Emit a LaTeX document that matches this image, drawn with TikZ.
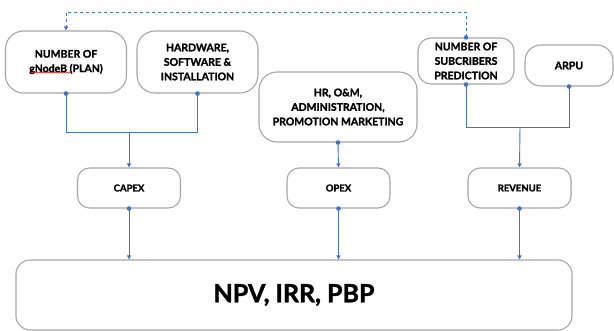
\documentclass[tikz,border=0pt]{standalone}
\usepackage{fontspec}
\setmainfont{Lato}[BoldFeatures={FakeBold=1.6}]
\usetikzlibrary{arrows.meta,decorations.pathmorphing}
\definecolor{boxgray}{HTML}{A6A6A6}
\definecolor{linkblue}{HTML}{4472C4}
\begin{document}
\begin{tikzpicture}[x=1pt,y=-1pt,
  inbox/.style={draw=boxgray,line width=1.1pt,rounded corners=18pt,fill=white,
    align=center,font=\fontsize{10.5}{14.5}\selectfont\bfseries,inner sep=2pt},
  midbox/.style={draw=boxgray,line width=1.1pt,rounded corners=12pt,fill=white,
    minimum width=103pt,minimum height=40pt,font=\fontsize{9.5}{12}\selectfont\bfseries},
  link/.style={draw=linkblue,line width=0.9pt},
  tip/.style={-{Triangle[length=4pt,width=4pt]}},
  linkdot/.style={fill=linkblue},
]
\useasboundingbox (0,0) rectangle (614,331);

\node[inbox,minimum width=121pt,minimum height=62pt] (gnb) at (66,62)
  {NUMBER OF\\gNodeB (PLAN)};
\node[inbox,minimum width=121pt,minimum height=62pt] (hw) at (197.5,62)
  {HARDWARE,\\SOFTWARE \&\\INSTALLATION};
\node[inbox,minimum width=158pt,minimum height=70pt] (hr) at (338,107)
  {HR, O\&M,\\ADMINISTRATION,\\PROMOTION MARKETING};
\node[inbox,minimum width=96pt,minimum height=46pt,rounded corners=13pt] (sub) at (466,61)
  {NUMBER OF\\SUBCRIBERS\\PREDICTION};
\node[inbox,minimum width=88pt,minimum height=41pt,rounded corners=16pt] (arpu) at (569,65.5)
  {ARPU};

\node[midbox] (capex) at (129,188) {CAPEX};
\node[midbox] (opex) at (338.5,188) {OPEX};
\node[midbox] (rev) at (519.5,188) {REVENUE};

\node[draw=boxgray,line width=1.1pt,rounded corners=14pt,minimum width=556pt,
  minimum height=70pt,font=\fontsize{25}{30}\selectfont\bfseries] (npv) at (294,295)
  {NPV, IRR, PBP};

% spell-check squiggle under gNodeB
\draw[red!80!black,line width=0.5pt,decorate,
  decoration={snake,amplitude=0.7pt,segment length=3pt}]
  (30,72.5) -- (72,72.5);

% junctions
\coordinate (j1) at (129,132);
\coordinate (j2) at (520,127);

\draw[link] (gnb.south) |- (j1);
\draw[link] (hw.south) |- (j1);
\draw[link,tip] (j1) -- (capex.north);

\draw[link,tip] (hr.south) -- (opex.north);

\draw[link] (sub.south) |- (j2);
\draw[link] (arpu.south) |- (j2);
\draw[link,tip] (j2) -- (rev.north);

\draw[link,tip] (capex.south) -- (capex.south |- npv.north);
\draw[link,tip] (opex.south) -- (opex.south |- npv.north);
\draw[link,tip] (rev.south) -- (rev.south |- npv.north);

% dashed feedback
\coordinate (d1) at (466,12);
\coordinate (d2) at (66,12);
\draw[link,dashed,line width=0.8pt,tip] (sub.north) -- (d1) -- (d2) -- (gnb.north);

% connection dots
\foreach \n in {gnb.south,hw.south,hr.south,sub.south,sub.north,arpu.south,
  capex.south,opex.south,rev.south}
  \fill[linkdot] (\n) circle (2.3pt);
\end{tikzpicture}
\end{document}
